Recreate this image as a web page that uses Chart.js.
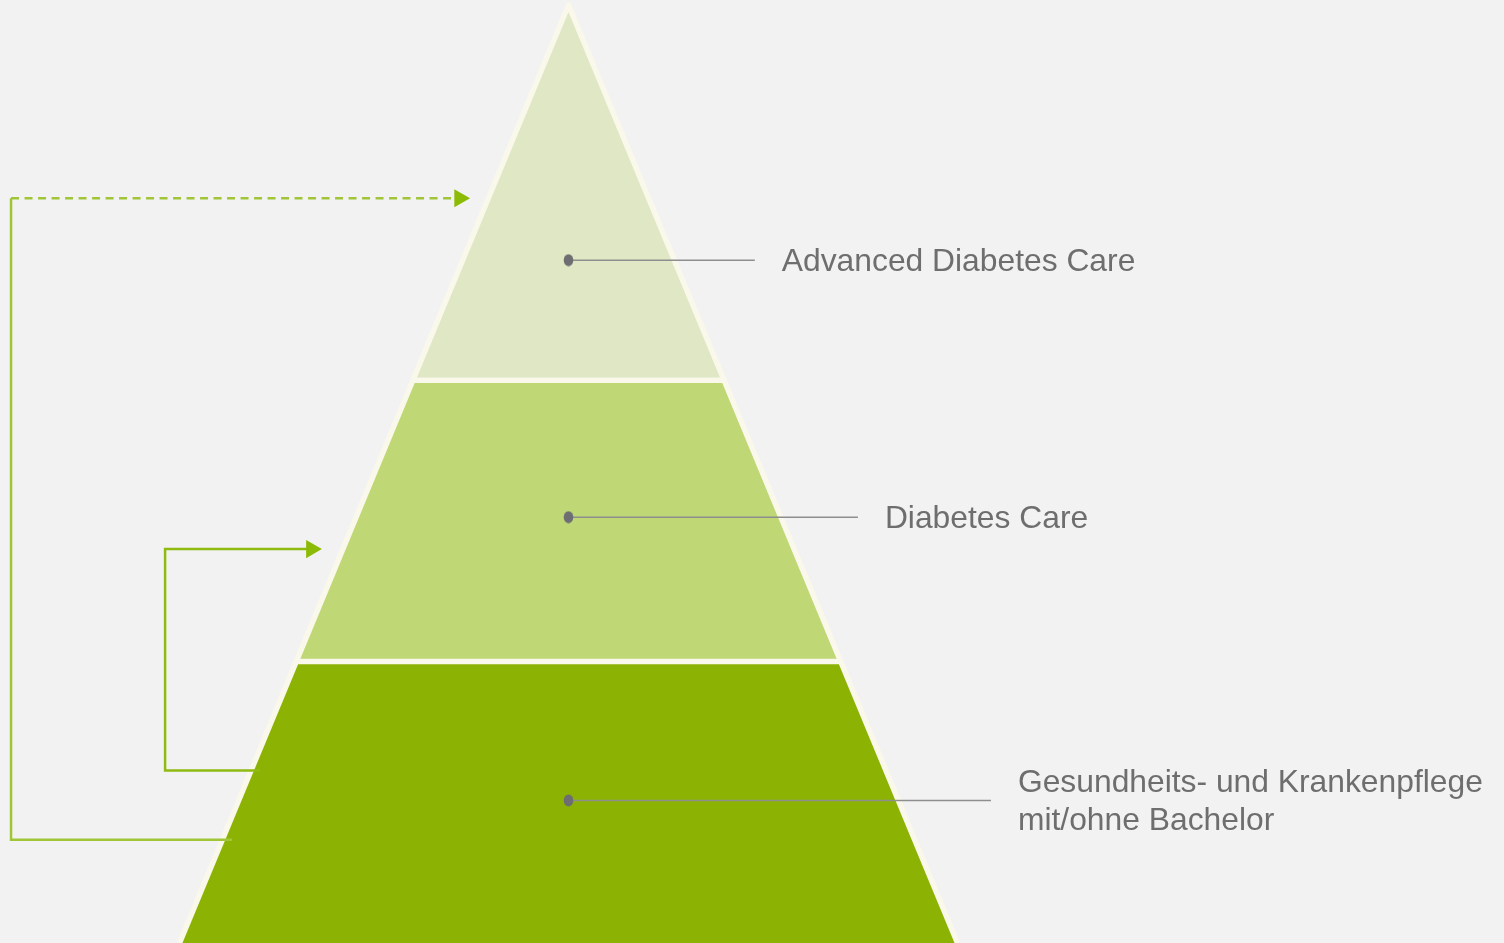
<!DOCTYPE html>
<html>
<head>
<meta charset="utf-8">
<script src="https://cdn.jsdelivr.net/npm/chart.js@4"></script>
<style>
  html, body { margin: 0; padding: 0; background: #f2f2f2; }
  #wrap { width: 1504px; height: 943px; position: relative; }
</style>
</head>
<body>
<div id="wrap"><canvas id="pyramid"></canvas></div>
<script>
// tiers, bottom to top
const tierLabels = [
    ['Gesundheits- und Krankenpflege', 'mit/ohne Bachelor'],
    ['Diabetes Care'],
    ['Advanced Diabetes Care']
];
const tierBounds = [0, 30, 60, 100];          // height levels, base = 0, apex = 100
const tierColors = ['#8cb304', '#bfd774', '#dfe7c5'];
const markerLevels = [15.2, 45.4, 72.8];      // where the grey dots sit
const leaderEnds = [1.086, 0.744, 0.479];     // x where the leader lines stop (half base = 1)

// connectors from the bottom tier up to the higher tiers
const connFrom = [11, 18.4];
const connTo = [79.4, 42];
const connRail = [-1.433, -1.037];
const connStart = [-0.865, -0.793];
const connTip = [-0.253, -0.634];
const connDashed = [true, false];

const cream = '#f9f8ea';
const textColor = '#6e6e6e';

function halfWidth(level) {
    return 1 - level / 100;
}

let datasets = [];

// connectors (drawn on top)
for (let i = 0; i < connFrom.length; i++) {
    const col = connDashed[i] ? '#a0c638' : '#8fbb10';
    const rail = [
        {x: connStart[i], y: connFrom[i]},
        {x: connRail[i], y: connFrom[i]},
        {x: connRail[i], y: connTo[i]}
    ];
    const shaft = [
        {x: connRail[i], y: connTo[i]},
        {x: connTip[i] - 0.027, y: connTo[i]}
    ];
    if (connDashed[i]) {
        datasets.push({ data: rail, borderColor: col, borderWidth: 2.5, pointRadius: 0, order: 0 });
        datasets.push({
            data: shaft, borderColor: col, borderWidth: 2.5, borderDash: [8, 5.5],
            pointRadius: [0, 10.5], pointStyle: 'triangle', pointRotation: 90,
            pointBackgroundColor: '#8cbb05', pointBorderWidth: 0, order: 0
        });
    } else {
        datasets.push({
            data: rail.concat(shaft.slice(1)), borderColor: col, borderWidth: 2.5,
            pointRadius: [0, 0, 0, 10.5], pointStyle: 'triangle', pointRotation: 90,
            pointBackgroundColor: '#8cbb05', pointBorderWidth: 0, order: 0
        });
    }
}

// small oval marker
const dot = document.createElement('canvas');
dot.width = 11; dot.height = 13;
const dctx = dot.getContext('2d');
dctx.fillStyle = '#6d6d72';
dctx.beginPath();
dctx.ellipse(5.5, 6.5, 4.8, 6, 0, 0, Math.PI * 2);
dctx.fill();

// leader lines + dots
markerLevels.forEach((lv, i) => {
    datasets.push({
        data: [{x: 0, y: lv}, {x: leaderEnds[i], y: lv}],
        borderColor: '#8e8e8e', borderWidth: 1.5,
        pointRadius: [6, 0], pointStyle: dot, order: 1
    });
});

// pyramid tiers
for (let i = 0; i < tierColors.length; i++) {
    const lo = tierBounds[i], hi = tierBounds[i + 1];
    datasets.push({
        data: [
            {x: -halfWidth(lo), y: lo},
            {x: -halfWidth(hi), y: hi},
            {x: halfWidth(hi), y: hi},
            {x: halfWidth(lo), y: lo}
        ],
        backgroundColor: tierColors[i],
        borderColor: cream,
        borderWidth: 5.5,
        borderJoinStyle: 'round',
        fill: {value: lo},
        pointRadius: 0,
        order: 2
    });
}

const labelPlugin = {
    id: 'tierText',
    afterDraw(chart) {
        const ctx = chart.ctx;
        const xs = chart.scales.x, ys = chart.scales.y;
        ctx.save();
        ctx.fillStyle = textColor;
        ctx.font = '31.8px "Liberation Sans", Arial, sans-serif';
        ctx.textBaseline = 'middle';
        ctx.textAlign = 'left';
        tierLabels.forEach((lines, i) => {
            const x = xs.getPixelForValue(leaderEnds[i]) + 27;
            const yc = ys.getPixelForValue(markerLevels[i]);
            const lh = 38;
            lines.forEach((t, k) => {
                ctx.fillText(t, x, yc + (k - (lines.length - 1) / 2) * lh + 2);
            });
        });
        ctx.restore();
    }
};

new Chart(document.getElementById('pyramid'), {
    type: 'line',
    data: { datasets: datasets },
    options: {
        responsive: true,
        maintainAspectRatio: false,
        animation: false,
        layout: { padding: 0, autoPadding: false },
        plugins: {
            legend: { display: false },
            tooltip: { enabled: false },
            filler: { drawTime: 'beforeDatasetsDraw' }
        },
        elements: { line: { tension: 0 } },
        scales: {
            x: { type: 'linear', min: -1.4614, max: 2.4049, display: false },
            y: { type: 'linear', min: 0, max: 100.533, display: false }
        }
    },
    plugins: [labelPlugin]
});
</script>
</body>
</html>
